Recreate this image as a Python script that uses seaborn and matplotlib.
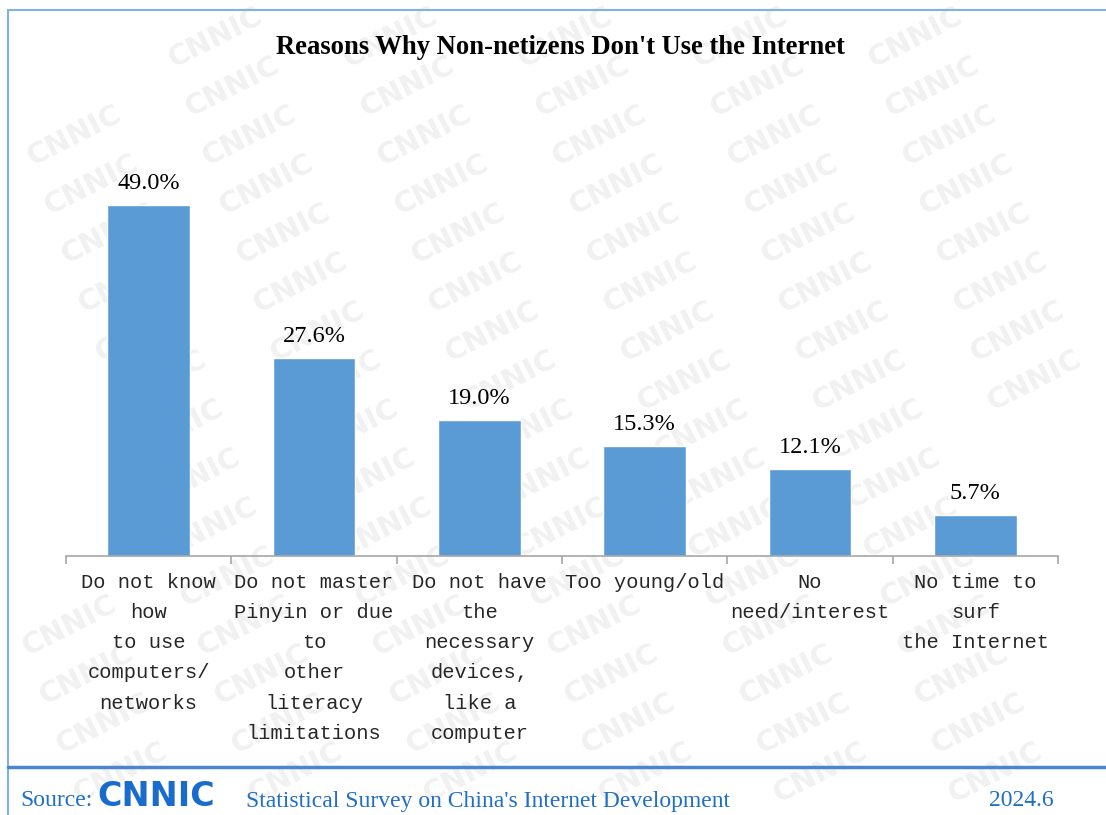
import matplotlib
matplotlib.use("Agg")
import matplotlib.pyplot as plt
import seaborn as sns
import pandas as pd
from matplotlib.lines import Line2D

categories = [
    "Do not know\nhow\nto use\ncomputers/\nnetworks",
    "Do not master\nPinyin or due\nto\nother\nliteracy\nlimitations",
    "Do not have\nthe\nnecessary\ndevices,\nlike a\ncomputer",
    "Too young/old",
    "No\nneed/interest",
    "No time to\nsurf\nthe Internet",
]
values = [49.0, 27.6, 19.0, 15.3, 12.1, 5.7]
value_labels = ["49.0%", "27.6%", "19.0%", "15.3%", "12.1%", "5.7%"]
title = "Reasons Why Non-netizens Don't Use the Internet"
source_prefix = "Source:"
logo_text = "CNNIC"
source_text = "Statistical Survey on China's Internet Development"
date_text = "2024.6"
watermark = "CNNIC"

sns.set_theme(style="white")

W, H = 1106, 815
fig = plt.figure(figsize=(W / 100, H / 100), dpi=100)
fig.patch.set_facecolor("white")

def fx(px):
    return px / W

def fy(py):
    return 1 - py / H

# faint diagonal watermark pattern, kept fully inside the figure
for r in range(16):
    y = 38 + r * 49
    for c in range(-3, 8):
        x = 40 + c * 175 + r * 17
        if x < 62 or x > 1044 or y > 778:
            continue
        fig.text(fx(x), fy(y), watermark, rotation=27, fontsize=21, fontweight="bold",
                 color="#f1f1f1", ha="center", va="center",
                 family="DejaVu Sans", zorder=-5)

# frame
fig.add_artist(Line2D([fx(8), fx(8)], [fy(10), 0], color="#7fb2e5", lw=1.5))
fig.add_artist(Line2D([fx(8), 1], [fy(10), fy(10)], color="#7fb2e5", lw=1.5))
fig.add_artist(Line2D([fx(8), 1], [fy(767), fy(767)], color="#4a86d0", lw=2.5))

ax_top, ax_bot, ax_left, ax_right = 150, 556, 66, 1058
ax = fig.add_axes([fx(ax_left), fy(ax_bot), fx(ax_right - ax_left), (ax_bot - ax_top) / H])
ax.patch.set_alpha(0)

df = pd.DataFrame({"cat": categories, "val": values})
sns.barplot(data=df, x="cat", y="val", color="#5b9bd5", saturation=1, width=0.5, ax=ax)
ymax = (ax_bot - ax_top) / 7.16
ax.set_ylim(0, ymax)
ax.set_xlim(-0.5, len(categories) - 0.5)

for i, (v, lab) in enumerate(zip(values, value_labels)):
    ax.annotate(lab, (i, v), xytext=(0, 8), textcoords="offset points", ha="center",
                va="bottom", fontsize=17.5, family="Liberation Serif", color="black")

for s in ["top", "right", "left"]:
    ax.spines[s].set_visible(False)
ax.spines["bottom"].set_color("#a6a6a6")
ax.spines["bottom"].set_linewidth(1.2)
ax.set_yticks([])
ax.set_xlabel("")
ax.set_ylabel("")
ax.set_xticks(range(len(categories)))
ax.set_xticklabels(categories, family="Liberation Mono", fontsize=14.7, linespacing=1.75,
                   va="top", ha="center")
ax.set_xticks([i - 0.5 for i in range(len(categories) + 1)], minor=True)
ax.tick_params(axis="x", which="major", length=0, pad=12)
ax.tick_params(axis="x", which="minor", length=6, width=1.2, color="#a6a6a6", direction="out", bottom=True)

fig.text(fx(560), fy(47), title, fontsize=19.2, fontweight="bold", family="Liberation Serif",
         ha="center", va="center", color="black")

blue = "#1f6fc5"
fig.text(fx(20), fy(801), source_prefix, fontsize=17, family="Liberation Serif", color=blue,
         ha="left", va="center")
fig.text(fx(97), fy(796), logo_text, fontsize=24, fontweight="heavy", family="DejaVu Sans",
         color="#1a6ccc", ha="left", va="center")
fig.text(fx(246), fy(801), source_text, fontsize=17, family="Liberation Serif", color=blue,
         ha="left", va="center")
fig.text(fx(1054), fy(801), date_text, fontsize=17, family="Liberation Serif", color=blue,
         ha="right", va="center")

fig.savefig("out.png", dpi=100, facecolor="white")
